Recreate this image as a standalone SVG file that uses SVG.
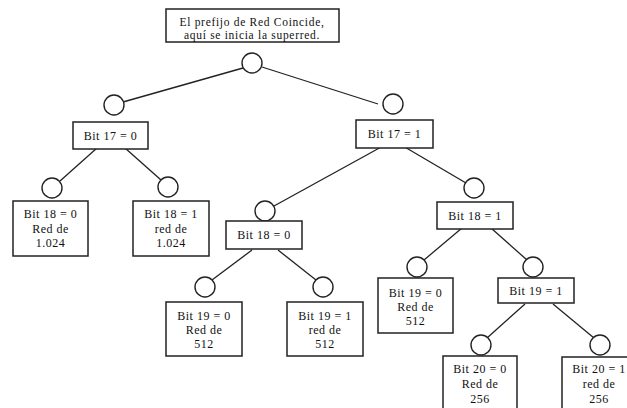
<svg xmlns="http://www.w3.org/2000/svg" width="627" height="408" viewBox="0 0 627 408">
<style>
.box{fill:#fff;stroke:#222;stroke-width:1.5}
.c{fill:#fff;stroke:#222;stroke-width:1.4}
.ln{stroke:#222;stroke-width:1.3;fill:none}
text{font-family:"Liberation Serif","Times New Roman",serif;font-size:12px;letter-spacing:0.5px;fill:#111;text-anchor:middle;dominant-baseline:central}
.t{font-size:11.5px;letter-spacing:0.7px}
</style>
<rect width="627" height="408" fill="#fff"/>
<g id="connectors">
<line class="ln" x1="243" y1="68" x2="123" y2="102"/>
<line class="ln" x1="262" y1="67" x2="378" y2="104"/>
<line class="ln" x1="97" y1="148" x2="60" y2="181"/>
<line class="ln" x1="125" y1="148" x2="161" y2="180"/>
<line class="ln" x1="383" y1="146" x2="274" y2="206"/>
<line class="ln" x1="403" y1="146" x2="466" y2="183"/>
<line class="ln" x1="252" y1="250" x2="212" y2="280"/>
<line class="ln" x1="278" y1="250" x2="316" y2="280"/>
<line class="ln" x1="462" y1="228" x2="424" y2="260"/>
<line class="ln" x1="491" y1="228" x2="527" y2="260"/>
<line class="ln" x1="525" y1="304" x2="487" y2="338"/>
<line class="ln" x1="553" y1="304" x2="594" y2="338"/>
</g>
<g id="root">
<rect class="box" x="166" y="9" width="173" height="33"/>
<text class="t" x="252" y="21.5">El prefijo de Red Coincide,</text>
<text class="t" x="252" y="35">aquí se inicia la superred.</text>
<circle class="c" cx="252" cy="63" r="10"/>
</g>
<g id="bit17_0">
<circle class="c" cx="114" cy="105" r="10"/>
<rect class="box" x="73" y="122" width="75" height="27"/>
<text x="110.5" y="135.5">Bit 17 = 0</text>
</g>
<g id="bit17_1">
<circle class="c" cx="393" cy="104" r="10"/>
<rect class="box" x="356" y="120" width="77" height="28"/>
<text x="394.5" y="134">Bit 17 = 1</text>
</g>
<g id="bit18_0_a">
<circle class="c" cx="52" cy="188" r="10"/>
<rect class="box" x="13" y="201" width="75" height="55"/>
<text x="50.5" y="214">Bit 18 = 0</text>
<text x="50.5" y="228.5">Red de</text>
<text x="50.5" y="243">1.024</text>
</g>
<g id="bit18_1_a">
<circle class="c" cx="168" cy="187" r="10"/>
<rect class="box" x="133" y="201" width="76" height="55"/>
<text x="171" y="214">Bit 18 = 1</text>
<text x="171" y="228.5">red de</text>
<text x="171" y="243">1.024</text>
</g>
<g id="bit18_0_b">
<circle class="c" cx="265" cy="211" r="10"/>
<rect class="box" x="226" y="221" width="76" height="28"/>
<text x="264" y="235">Bit 18 = 0</text>
</g>
<g id="bit18_1_b">
<circle class="c" cx="474" cy="188" r="10"/>
<rect class="box" x="437" y="202" width="76" height="27"/>
<text x="475" y="215.5">Bit 18 = 1</text>
</g>
<g id="bit19_0_a">
<circle class="c" cx="205" cy="287" r="10"/>
<rect class="box" x="166" y="302" width="76" height="54"/>
<text x="204" y="315.5">Bit 19 = 0</text>
<text x="204" y="330">Red de</text>
<text x="204" y="344">512</text>
</g>
<g id="bit19_1_a">
<circle class="c" cx="323" cy="287" r="10"/>
<rect class="box" x="287" y="302" width="76" height="54"/>
<text x="325" y="315.5">Bit 19 = 1</text>
<text x="325" y="330">red de</text>
<text x="325" y="344">512</text>
</g>
<g id="bit19_0_b">
<circle class="c" cx="417" cy="267" r="10"/>
<rect class="box" x="378" y="278" width="75" height="55"/>
<text x="415.5" y="293">Bit 19 = 0</text>
<text x="415.5" y="307">Red de</text>
<text x="415.5" y="321">512</text>
</g>
<g id="bit19_1_b">
<circle class="c" cx="533" cy="267" r="10"/>
<rect class="box" x="498" y="278" width="76" height="25"/>
<text x="536" y="290.5">Bit 19 = 1</text>
</g>
<g id="bit20_0">
<circle class="c" cx="481" cy="345" r="10"/>
<rect class="box" x="443" y="356" width="74" height="60"/>
<text x="480" y="369">Bit 20 = 0</text>
<text x="480" y="384">Red de</text>
<text x="480" y="399">256</text>
</g>
<g id="bit20_1">
<circle class="c" cx="600" cy="345" r="10"/>
<rect class="box" x="562" y="357" width="75" height="60"/>
<text x="599" y="369">Bit 20 = 1</text>
<text x="599" y="384">red de</text>
<text x="599" y="399">256</text>
</g>
</svg>
